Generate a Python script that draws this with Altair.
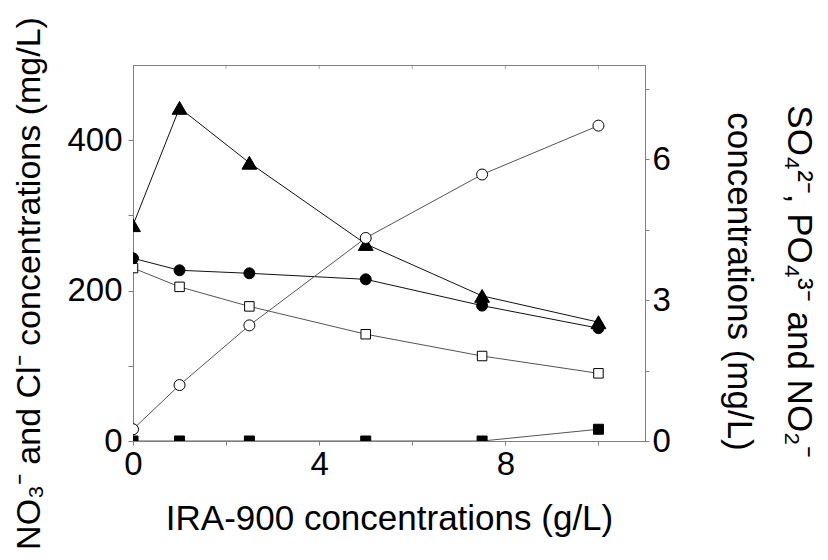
import altair as alt
import pandas as pd

# ---- data ----
x_vals = [0, 1, 2.5, 5, 7.5, 10]
tri_vals = [287, 443, 370, 262, 193, 158]          # filled triangles (left axis)
fcirc_vals = [243, 227, 223, 215, 180, 150]        # filled circles (left axis)
osq_vals = [230, 205, 179, 142, 113, 90]           # open squares (left axis)
ocirc_vals = [0.25, 1.19, 2.46, 4.32, 5.67, 6.71]  # open circles (right axis)
fsq_vals = [0, 0, 0, 0, 0, 0.25]                   # filled squares (right axis)

x_ticks = [0, 2, 4, 6, 8, 10]
left_ticks = [0, 100, 200, 300, 400]
right_ticks = [0, 1.5, 3, 4.5, 6, 7.5]

FONT = "Liberation Sans"
GRAY = "#808080"

X = alt.X(
    "x:Q",
    scale=alt.Scale(domain=[0, 11], nice=False, zero=False),
    axis=alt.Axis(
        values=x_ticks,
        labelExpr="datum.value % 4 == 0 ? datum.label : ''",
        title="IRA-900 concentrations (g/L)",
        tickSize=4,
        labelPadding=3,
        titlePadding=20,
        labelFlush=False,
    ),
)

Y_left = alt.Y(
    "v:Q",
    scale=alt.Scale(domain=[0, 500], nice=False),
    axis=alt.Axis(
        orient="left",
        values=left_ticks,
        labelExpr="datum.value % 200 == 0 ? datum.label : ''",
        title="NO₃⁻ and Cl⁻ concentrations (mg/L)",
        titleFontSize=34,
        titleY=218,
        tickSize=5,
        labelPadding=6,
        titlePadding=20,
        labelFlush=False,
    ),
)

Y_right = alt.Y(
    "v:Q",
    scale=alt.Scale(domain=[0, 8], nice=False),
    axis=alt.Axis(
        orient="right",
        values=right_ticks,
        labelExpr="datum.value % 3 == 0 ? datum.label : ''",
        title=["SO₄²⁻, PO₄³⁻ and NO₂⁻", "concentrations (mg/L)"],
        titleLineHeight=60,
        titleY=216,
        tickSize=4,
        labelPadding=3,
        titlePadding=50,
        labelFlush=False,
    ),
)


def series(vals, shape, fill, line_color, y_enc, size):
    df = pd.DataFrame({"x": x_vals, "v": vals})
    base = alt.Chart(df).encode(x=X, y=y_enc)
    line = base.mark_line(color=line_color, strokeWidth=1, clip=True)
    pts = base.mark_point(
        shape=shape, filled=True, fill=fill, stroke="black", strokeWidth=1,
        size=size, opacity=1, clip=True,
    )
    return [line, pts]


top_ticks = (
    alt.Chart(pd.DataFrame({"x": x_ticks}))
    .mark_tick(orient="vertical", size=8, thickness=1, color=GRAY, clip=True)
    .encode(x=alt.X("x:Q"), y=alt.value(0))
)

left_group = alt.layer(
    *series(osq_vals, "square", "white", "#555555", Y_left, 90),
    *series(fcirc_vals, "circle", "black", "#111111", Y_left, 120),
    *series(tri_vals, "triangle-up", "black", "#111111", Y_left, 220),
    top_ticks,
)

right_group = alt.layer(
    *series(fsq_vals, "square", "black", "#555555", Y_right, 100),
    *series(ocirc_vals, "circle", "white", "#555555", Y_right, 121),
)

chart = (
    alt.layer(left_group, right_group)
    .resolve_scale(y="independent")
    .properties(
        width=512,
        height=376,
        padding={"left": 133, "top": 65, "right": 183, "bottom": 119},
        autosize=alt.AutoSizeParams(type="none"),
        background="white",
    )
    .configure_view(stroke=GRAY, strokeWidth=1)
    .configure_axis(
        grid=False,
        domainColor=GRAY,
        tickColor=GRAY,
        labelFont=FONT,
        labelFontSize=33,
        labelColor="black",
        titleFont=FONT,
        titleFontSize=35,
        titleFontWeight="normal",
        titleColor="black",
    )
)

chart.save("out.html", embed_options={"renderer": "svg", "actions": False})
